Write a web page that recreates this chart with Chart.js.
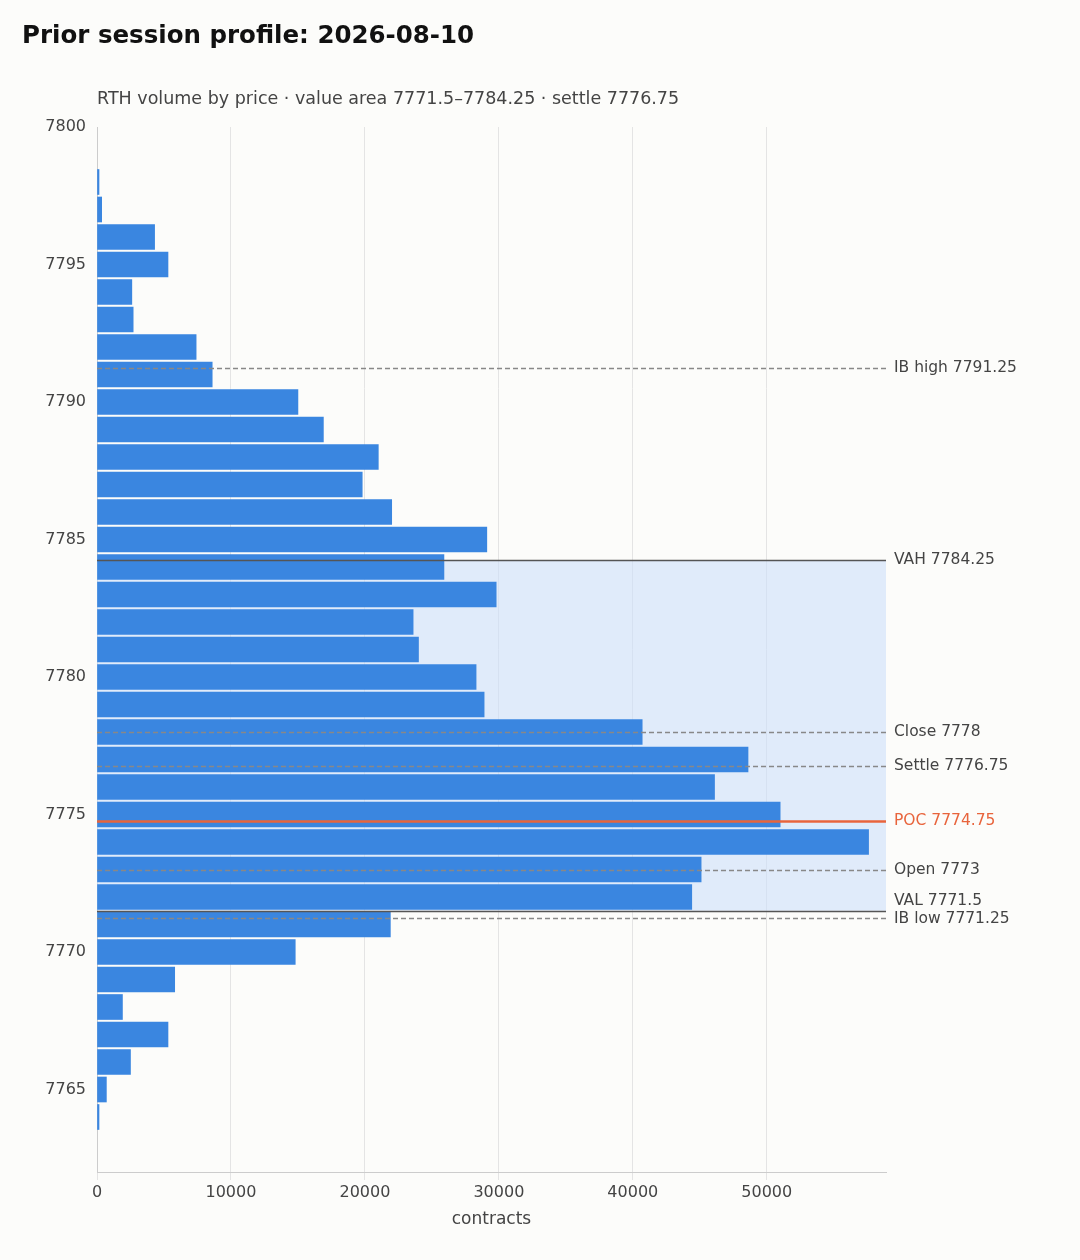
<!DOCTYPE html>
<html>
<head>
<meta charset="utf-8">
<script src="https://cdn.jsdelivr.net/npm/chart.js@4"></script>
<style>
  body { margin:0; background:#fcfcfa; font-family:"DejaVu Sans", sans-serif; }
  #wrap { position:relative; width:1080px; height:1260px; }
  #title { position:absolute; left:22px; top:20px; font-size:24.5px; font-weight:bold; color:#111; }
  #sub { position:absolute; left:97px; top:88px; font-size:17.5px; color:#444; }
  canvas { position:absolute; left:0; top:0; }
</style>
</head>
<body>
<div id="wrap">
  <canvas id="c" width="1080" height="1260"></canvas>
  <div id="title">Prior session profile: 2026-08-10</div>
  <div id="sub">RTH volume by price · value area 7771.5–7784.25 · settle 7776.75</div>
</div>
<script>
var prices = [7764, 7765, 7766, 7767, 7768, 7769, 7770, 7771, 7772, 7773, 7774, 7775, 7776, 7777, 7778, 7779, 7780, 7781, 7782, 7783, 7784, 7785, 7786, 7787, 7788, 7789, 7790, 7791, 7792, 7793, 7794, 7795, 7796, 7797, 7798];
var volumes = [150, 700, 2500, 5300, 1900, 5800, 14800, 21900, 44400, 45100, 57600, 51000, 46100, 48600, 40700, 28900, 28300, 24000, 23600, 29800, 25900, 29100, 22000, 19800, 21000, 16900, 15000, 8600, 7400, 2700, 2600, 5300, 4300, 350, 150];
var yTicks = [7765, 7770, 7775, 7780, 7785, 7790, 7795, 7800];
var xTicks = [0, 10000, 20000, 30000, 40000, 50000];
var valueArea = [7771.5, 7784.25];
var refLevels = [
  { label: "IB high 7791.25", price: 7791.25, kind: "dash" },
  { label: "VAH 7784.25", price: 7784.25, kind: "solid" },
  { label: "Close 7778", price: 7778, kind: "dash" },
  { label: "Settle 7776.75", price: 7776.75, kind: "dash" },
  { label: "POC 7774.75", price: 7774.75, kind: "poc" },
  { label: "Open 7773", price: 7773, kind: "dash" },
  { label: "VAL 7771.5", price: 7771.5, kind: "solid", dy: -11 },
  { label: "IB low 7771.25", price: 7771.25, kind: "dash", dy: 0 }
];

var profilePlugin = {
  id: "profile",
  beforeDatasetsDraw: function(chart) {
    var ctx = chart.ctx, a = chart.chartArea, y = chart.scales.y;
    var t = y.getPixelForValue(valueArea[1]), b = y.getPixelForValue(valueArea[0]);
    ctx.save();
    ctx.fillStyle = "rgba(205,224,250,0.6)";
    ctx.fillRect(a.left, t, a.right - a.left, b - t);
    ctx.restore();
  },
  afterDatasetsDraw: function(chart) {
    var ctx = chart.ctx, a = chart.chartArea, y = chart.scales.y;
    ctx.save();
    ctx.font = "15.5px 'DejaVu Sans'";
    ctx.textBaseline = "middle";
    refLevels.forEach(function(r) {
      var py = Math.round(y.getPixelForValue(r.price)) + 0.5;
      ctx.beginPath();
      if (r.kind === "dash") { ctx.setLineDash([5, 3]); ctx.strokeStyle = "#888"; ctx.lineWidth = 1.5; }
      else if (r.kind === "poc") { ctx.setLineDash([]); ctx.strokeStyle = "#e8643c"; ctx.lineWidth = 2.5; }
      else { ctx.setLineDash([]); ctx.strokeStyle = "#555"; ctx.lineWidth = 1.5; }
      ctx.moveTo(a.left, py); ctx.lineTo(a.right, py); ctx.stroke();
      ctx.fillStyle = r.kind === "poc" ? "#e8643c" : "#444";
      ctx.fillText(r.label, a.right + 8, py + (r.dy !== undefined ? r.dy : -1));
    });
    ctx.restore();
  }
};

new Chart(document.getElementById("c"), {
  type: "bar",
  data: {
    datasets: [{
      data: prices.map(function(p, i) { return { x: volumes[i], y: p }; }),
      backgroundColor: "#3a86e0",
      barThickness: 25
    }]
  },
  options: {
    indexAxis: "y",
    responsive: false,
    animation: false,
    devicePixelRatio: 1,
    layout: { padding: { top: 127, right: 194, left: 0, bottom: 26 } },
    plugins: { legend: { display: false }, tooltip: { enabled: false } },
    scales: {
      y: {
        type: "linear", min: 7762, max: 7800, offset: false,
        afterBuildTicks: function(s) { s.ticks = yTicks.map(function(v) { return { value: v }; }); },
        afterFit: function(s) { s.width = 97; },
        grid: { display: false, drawTicks: true },
        border: { color: "#ccc" },
        ticks: { color: "#444", font: { size: 16, family: "DejaVu Sans" }, callback: function(v) { return v; } }
      },
      x: {
        type: "linear", min: 0, max: 58900, offset: false,
        afterBuildTicks: function(s) { s.ticks = xTicks.map(function(v) { return { value: v }; }); },
        afterFit: function(s) { s.height = 62; },
        grid: { color: "#e4e4e4" },
        border: { color: "#ccc" },
        ticks: { color: "#444", font: { size: 16, family: "DejaVu Sans" }, callback: function(v) { return v; } },
        title: { display: true, text: "contracts", color: "#444", font: { size: 17, family: "DejaVu Sans" } }
      }
    }
  },
  plugins: [profilePlugin]
});
</script>
</body>
</html>
